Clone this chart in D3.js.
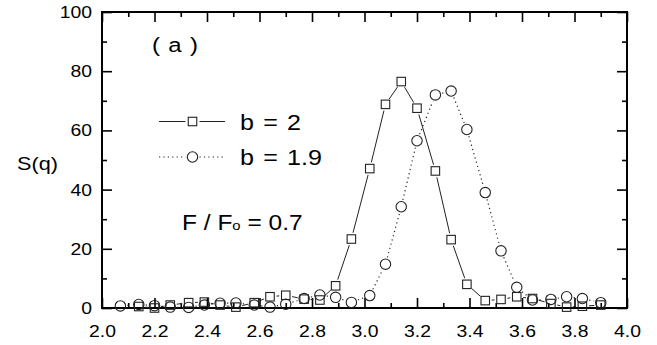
<!DOCTYPE html>
<html>
<head>
<meta charset="utf-8">
<script src="https://cdn.jsdelivr.net/npm/d3@7"></script>
<style>
  html, body { margin: 0; padding: 0; background: #fff; }
  svg { display: block; }
  text { font-family: "Liberation Sans", Arial, Helvetica, sans-serif; fill: #000; }
</style>
</head>
<body>
<svg id="chart" width="657" height="345"></svg>
<script>
// Momentum grid q shared by both runs
const qValues = [2.07, 2.14, 2.20, 2.26, 2.33, 2.39, 2.45, 2.51, 2.58, 2.64,
                 2.70, 2.77, 2.83, 2.89, 2.95, 3.02, 3.08, 3.14, 3.20, 3.27,
                 3.33, 3.39, 3.46, 3.52, 3.58, 3.64, 3.71, 3.77, 3.83, 3.90];

// S(q) for b = 2 (squares, solid line); starts at the second q value
const sB2 = [null, 0.5, 0.0, 1.0, 1.8, 2.0, 1.0, 0.3, 1.8, 3.8,
             4.3, 3.0, 2.7, 7.5, 23.3, 47.1, 68.8, 76.5, 67.5, 46.3,
             23.1, 8.0, 2.5, 2.9, 3.8, 3.2, 1.5, 0.3, 0.6, 1.0];

// S(q) for b = 1.9 (circles, dotted line)
const sB19 = [0.7, 1.2, 0.8, 0.3, 0.2, 1.0, 1.6, 1.7, 1.0, 0.3,
              1.3, 3.2, 4.4, 3.6, 1.9, 4.2, 14.8, 34.2, 56.5, 72.0,
              73.3, 60.3, 39.0, 19.3, 7.0, 2.7, 2.9, 3.8, 3.2, 1.8];

const xTickLabels = ["2.0", "2.2", "2.4", "2.6", "2.8", "3.0", "3.2", "3.4", "3.6", "3.8", "4.0"];
const yTickLabels = ["0", "20", "40", "60", "80", "100"];

const svg = d3.select("#chart");
const m = { left: 102, right: 627, top: 12, bottom: 308 };
const ink = "#222";
const stretch = 1.14;   // text is set slightly wide

const x = d3.scaleLinear().domain([2.0, 4.0]).range([m.left, m.right]);
const y = d3.scaleLinear().domain([0, 100]).range([m.bottom, m.top]);

// ---- axes: ticks point inward on all four sides ----
const majorLen = 10, minorLen = 5;
const xMajor = xTickLabels.map(Number);
const xMinor = d3.range(2.1, 4.0, 0.2);
const yMajor = yTickLabels.map(Number);
const yMinor = d3.range(10, 100, 20);

function styleAxis(g) {
  g.select(".domain").remove();
  g.selectAll(".tick line").attr("stroke", "#000").attr("stroke-width", 1.6);
  g.selectAll("text").attr("font-size", 17)
    .style("font-family", "'Liberation Sans', Arial, sans-serif").attr("fill", "#000");
}

// bottom: labels below, ticks up
svg.append("g").attr("transform", `translate(0,${m.bottom})`)
  .call(d3.axisBottom(x).tickValues(xMajor).tickFormat((d, i) => xTickLabels[i])
    .tickSizeInner(-majorLen).tickSizeOuter(0).tickPadding(17))
  .call(styleAxis)
  .call(g => g.selectAll(".tick text").attr("transform", `scale(${stretch},1)`));
svg.append("g").attr("transform", `translate(0,${m.bottom})`)
  .call(d3.axisBottom(x).tickValues(xMinor).tickFormat("").tickSizeInner(-minorLen).tickSizeOuter(0))
  .call(styleAxis);
// top
svg.append("g").attr("transform", `translate(0,${m.top})`)
  .call(d3.axisTop(x).tickValues(xMajor).tickFormat("").tickSizeInner(-majorLen).tickSizeOuter(0))
  .call(styleAxis);
svg.append("g").attr("transform", `translate(0,${m.top})`)
  .call(d3.axisTop(x).tickValues(xMinor).tickFormat("").tickSizeInner(-minorLen).tickSizeOuter(0))
  .call(styleAxis);
// left: labels left, ticks right
svg.append("g").attr("transform", `translate(${m.left},0)`)
  .call(d3.axisLeft(y).tickValues(yMajor).tickFormat((d, i) => yTickLabels[i])
    .tickSizeInner(-majorLen).tickSizeOuter(0).tickPadding(0))
  .call(styleAxis)
  .call(g => g.selectAll(".tick text").attr("x", 0)
    .attr("transform", `translate(-10,0) scale(${stretch},1)`));
svg.append("g").attr("transform", `translate(${m.left},0)`)
  .call(d3.axisLeft(y).tickValues(yMinor).tickFormat("").tickSizeInner(-minorLen).tickSizeOuter(0))
  .call(styleAxis);
// right
svg.append("g").attr("transform", `translate(${m.right},0)`)
  .call(d3.axisRight(y).tickValues(yMajor).tickFormat("").tickSizeInner(-majorLen).tickSizeOuter(0))
  .call(styleAxis);
svg.append("g").attr("transform", `translate(${m.right},0)`)
  .call(d3.axisRight(y).tickValues(yMinor).tickFormat("").tickSizeInner(-minorLen).tickSizeOuter(0))
  .call(styleAxis);

// frame
svg.append("rect")
  .attr("x", m.left).attr("y", m.top)
  .attr("width", m.right - m.left).attr("height", m.bottom - m.top)
  .attr("fill", "none").attr("stroke", "#000").attr("stroke-width", 2);

// ---- connecting lines that stop short of each marker ----
function gapSegments(points, gap) {
  const segs = [];
  for (let i = 1; i < points.length; i++) {
    const [x0, y0] = points[i - 1], [x1, y1] = points[i];
    const dx = x1 - x0, dy = y1 - y0, len = Math.hypot(dx, dy);
    if (len <= 2 * gap) continue;
    const ux = dx / len, uy = dy / len;
    segs.push([[x0 + ux * gap, y0 + uy * gap], [x1 - ux * gap, y1 - uy * gap]]);
  }
  return segs;
}

function seriesPoints(vals) {
  return qValues.map((q, i) => [q, vals[i]]).filter(d => d[1] !== null)
    .map(d => [x(d[0]), y(d[1])]);
}

const ptsB2 = seriesPoints(sB2);
const ptsB19 = seriesPoints(sB19);
const line = d3.line();

svg.append("g").selectAll("path")
  .data(gapSegments(ptsB2, 6.5)).join("path")
  .attr("d", line).attr("fill", "none").attr("stroke", ink).attr("stroke-width", 1);

svg.append("g").selectAll("path")
  .data(gapSegments(ptsB19, 7)).join("path")
  .attr("d", line).attr("fill", "none").attr("stroke", ink).attr("stroke-width", 1.2)
  .attr("stroke-dasharray", "1.2,3.2");

// ---- markers ----
const sq = 8.5, cr = 5.2;
svg.append("g").selectAll("rect")
  .data(ptsB2).join("rect")
  .attr("x", d => d[0] - sq / 2).attr("y", d => d[1] - sq / 2)
  .attr("width", sq).attr("height", sq)
  .attr("fill", "none").attr("stroke", ink).attr("stroke-width", 1.1);

svg.append("g").selectAll("circle")
  .data(ptsB19).join("circle")
  .attr("cx", d => d[0]).attr("cy", d => d[1]).attr("r", cr)
  .attr("fill", "none").attr("stroke", ink).attr("stroke-width", 1.1);

// wide-set text placed at (tx, ty)
function label(tx, ty, size) {
  return svg.append("text")
    .attr("transform", `translate(${tx},${ty}) scale(${stretch},1)`)
    .attr("font-size", size);
}

// ---- legend ----
const lg = svg.append("g");
const legendRows = [
  { label: "b = 2", y: 121.5, shape: "square", dash: null },
  { label: "b = 1.9", y: 157, shape: "circle", dash: "1.2,3.2" }
];
legendRows.forEach(r => {
  const cx = 192.5;
  [[159, cx - 7], [cx + 7, 225]].forEach(([a, b]) => {
    lg.append("line").attr("x1", a).attr("x2", b).attr("y1", r.y).attr("y2", r.y)
      .attr("stroke", ink).attr("stroke-width", r.dash ? 1.2 : 1)
      .attr("stroke-dasharray", r.dash);
  });
  if (r.shape === "square") {
    lg.append("rect").attr("x", cx - sq / 2).attr("y", r.y - sq / 2)
      .attr("width", sq).attr("height", sq)
      .attr("fill", "none").attr("stroke", ink).attr("stroke-width", 1.1);
  } else {
    lg.append("circle").attr("cx", cx).attr("cy", r.y).attr("r", cr)
      .attr("fill", "none").attr("stroke", ink).attr("stroke-width", 1.1);
  }
  label(240, r.y + 8, 22).attr("word-spacing", 2).text(r.label);
});

// ---- annotations ----
label(152, 52, 21).attr("xml:space", "preserve").attr("word-spacing", 1.5).text("( a )");

const ann = label(182, 230, 21.5);
ann.append("tspan").text("F / F");
ann.append("tspan").attr("font-size", 13).text("o");
ann.append("tspan").text(" = 0.7");

// y-axis title
label(17, 170, 19).text("S(q)");
</script>
</body>
</html>
